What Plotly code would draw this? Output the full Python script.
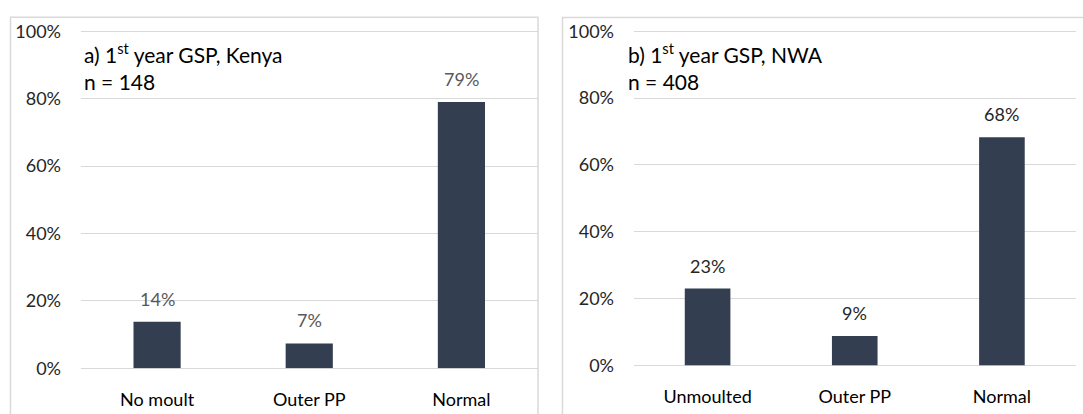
import plotly.graph_objects as go

# Figure size in pixels
W, H = 1083, 414

# Panel a) Kenya
cats_a = ["No moult", "Outer PP", "Normal"]
vals_a = [13.8, 7.4, 79.0]
labels_a = ["14%", "7%", "79%"]

# Panel b) NWA
cats_b = ["Unmoulted", "Outer PP", "Normal"]
vals_b = [23.0, 8.8, 68.3]
labels_b = ["23%", "9%", "68%"]

y_ticks = [0, 20, 40, 60, 80, 100]
y_tick_text = ["0%", "20%", "40%", "60%", "80%", "100%"]

BAR = "#333F50"
GRID = "#D9D9D9"
FONT = "Lato"


def px_x(x):
    return x / W


def px_y(y):
    return 1 - y / H


fig = go.Figure()
fig.add_trace(go.Bar(x=cats_a, y=vals_a, width=0.31, marker_color=BAR,
                     marker_line_width=0, xaxis="x", yaxis="y", hoverinfo="skip"))
fig.add_trace(go.Bar(x=cats_b, y=vals_b, width=0.31, marker_color=BAR,
                     marker_line_width=0, xaxis="x2", yaxis="y2", hoverinfo="skip"))

yax = dict(range=[0, 100.4], tickmode="array", tickvals=y_ticks, ticktext=y_tick_text,
           showgrid=True, gridcolor=GRID, gridwidth=1.3,
           zeroline=True, zerolinecolor=GRID, zerolinewidth=1.3, showline=False,
           ticks="", ticklabelstandoff=19, fixedrange=True,
           tickfont=dict(family=FONT, size=18, color="#262626"))
xax = dict(showgrid=False, zeroline=False, showline=False, ticks="",
           ticklabelstandoff=19, fixedrange=True,
           tickfont=dict(family=FONT, size=18, color="#000000"))

fig.update_layout(
    width=W, height=H,
    margin=dict(l=0, r=0, t=0, b=0),
    paper_bgcolor="white", plot_bgcolor="white",
    showlegend=False,
    xaxis=dict(domain=[px_x(81), px_x(537.5)], anchor="y", **xax),
    yaxis=dict(domain=[px_y(376.5), px_y(21)], anchor="x", **yax),
    xaxis2=dict(domain=[px_x(634), px_x(1075.5)], anchor="y2", **xax),
    yaxis2=dict(domain=[px_y(373.5), px_y(21)], anchor="x2", **yax),
)

# Value labels above the bars
for cats, vals, labs, xr, yr, col in [
    (cats_a, vals_a, labels_a, "x", "y", "#595959"),
    (cats_b, vals_b, labels_b, "x2", "y2", "#262626"),
]:
    for c, v, t in zip(cats, vals, labs):
        fig.add_annotation(x=c, y=v, xref=xr, yref=yr, text=t, showarrow=False,
                           yanchor="middle", yshift=23,
                           font=dict(family=FONT, size=18, color=col))

# Panel titles
titles = [
    (82, "a) 1<sup>st</sup> year GSP, Kenya", "n = 148"),
    (626, "b) 1<sup>st</sup> year GSP, NWA", "n = 408"),
]
for x0, t1, t2 in titles:
    fig.add_annotation(x=px_x(x0), y=px_y(45), xref="paper", yref="paper",
                       text=t1, showarrow=False, xanchor="left", yanchor="middle",
                       font=dict(family=FONT, size=21, color="#000000"))
    fig.add_annotation(x=px_x(x0), y=px_y(75), xref="paper", yref="paper",
                       text=t2, showarrow=False, xanchor="left", yanchor="middle",
                       font=dict(family=FONT, size=21, color="#000000"))

# Chart area borders
border = dict(color=GRID, width=1.5)
fig.add_shape(type="rect", xref="paper", yref="paper",
              x0=px_x(10.5), x1=px_x(538), y0=px_y(430), y1=px_y(7.5), line=border)
fig.add_shape(type="rect", xref="paper", yref="paper",
              x0=px_x(562.5), x1=px_x(1100), y0=px_y(430), y1=px_y(8), line=border)

fig.write_html("out.html")
